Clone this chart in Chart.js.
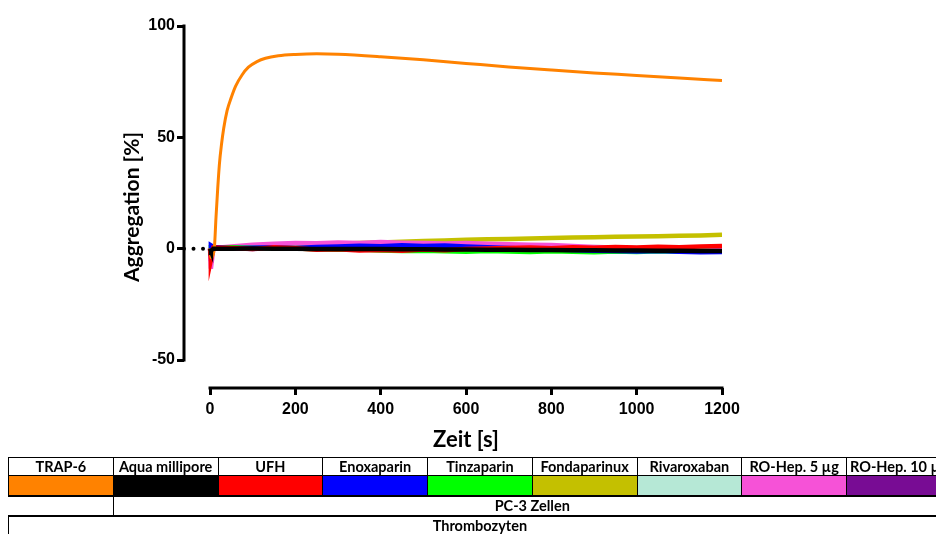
<!DOCTYPE html>
<html>
<head>
<meta charset="utf-8">
<script src="https://cdn.jsdelivr.net/npm/chart.js@4/dist/chart.umd.min.js"></script>
<style>
body { margin: 0; width: 936px; height: 534px; overflow: hidden; background: #fff; position: relative; }
#wrap { position: absolute; left: 0; top: 2px; width: 936px; height: 456px; }
table { position: absolute; left: 8px; top: 457px; border-collapse: collapse; table-layout: fixed; width: 943px;
        font-family: Lato, sans-serif; font-weight: bold; font-size: 14.5px; color: #000; }
td { border: 1.5px solid #000; text-align: center; padding: 0; white-space: nowrap; overflow: hidden; line-height: 16px; }
tr.h td { height: 17px; }
tr.c td { height: 19px; border-bottom-width: 2.5px; }
tr.p td { height: 18px; border-bottom-width: 2.5px; }
tr.p td.blank { border-left: none; }
tr.t td { height: 18px; }
</style>
</head>
<body>
<div id="wrap"><canvas id="chart" width="936" height="456"></canvas></div>
<table>
  <colgroup>
    <col style="width:104.75px"><col style="width:104.75px"><col style="width:104.75px">
    <col style="width:104.75px"><col style="width:104.75px"><col style="width:104.75px">
    <col style="width:104.75px"><col style="width:104.75px"><col style="width:104.75px">
  </colgroup>
  <tr class="h" id="headRow"></tr>
  <tr class="c" id="colorRow"></tr>
  <tr class="p"><td class="blank"></td><td colspan="8">PC-3 Zellen</td></tr>
  <tr class="t"><td colspan="9">Thrombozyten</td></tr>
</table>
<script>
// x ticks / y ticks
var xTicks = [0, 200, 400, 600, 800, 1000, 1200];
var yTicks = [-50, 0, 50, 100];

// treatments (legend table order)
var labels = ['TRAP-6', 'Aqua millipore', 'UFH', 'Enoxaparin', 'Tinzaparin', 'Fondaparinux', 'Rivaroxaban', 'RO-Hep. 5 µg', 'RO-Hep. 10 µg'];
var colors = ['#ff8200', '#000000', '#ff0000', '#0000ff', '#00ff00', '#c4c000', '#b6e8d6', '#f652d7', '#780c94'];

// TRAP-6 trace
var trapTimes = [0, 2, 10, 14, 18, 22, 27, 32, 40, 50, 60, 75, 90, 110, 130, 160, 200, 250, 300, 400, 500, 600, 700, 800, 900, 1000, 1100, 1200];
var trapValues = [0, -4, 0, 14, 27, 38, 47, 54, 62, 68, 73, 78, 81.5, 84, 85.5, 86.6, 87.2, 87.5, 87.3, 86.2, 84.8, 83.2, 81.6, 80.2, 78.9, 77.8, 76.6, 75.5];

// other traces, sampled at these times
var times = [0, 2, 8, 50, 100, 150, 200, 250, 300, 350, 400, 450, 500, 550, 600, 650, 700, 750, 800, 850, 900, 950, 1000, 1050, 1100, 1150, 1200];
var aqua = [0, -1, 0, 0, 0.1, 0, 0, -0.1, -0.1, -0.2, -0.2, -0.3, -0.3, -0.4, -0.4, -0.5, -0.5, -0.6, -0.6, -0.7, -0.7, -0.8, -0.8, -0.9, -0.9, -1.0, -1.0];
var ufh = [0, -5, 0.5, 0.3, -0.2, 0.6, 0.2, -0.5, -0.3, -0.8, -0.6, -0.9, -0.4, -0.7, -0.2, 0.1, 0.3, 0.5, 0.2, 0.6, 0.4, 0.7, 0.5, 0.9, 0.6, 1.0, 1.2];
var enox = [0, 1.5, 0.8, 0.2, 0.4, 0.6, 0.3, 0.8, 1.0, 1.3, 1.1, 1.5, 1.2, 1.4, 1.0, 0.6, 0.3, 0, -0.4, -0.6, -0.9, -1.0, -1.3, -1.1, -1.4, -1.6, -1.5];
var tinz = [0, 0.5, 0.3, 0.6, 0.4, 0.2, 0.1, -0.3, -0.5, -0.4, -0.8, -1.0, -0.9, -1.2, -1.4, -1.1, -1.3, -1.5, -1.2, -1.4, -1.6, -1.3, -1.5, -1.2, -1.4, -1.1, -1.3];
var fonda = [0, 0, 0.2, 0.4, 0.8, 1.0, 1.5, 1.8, 2.2, 2.5, 2.8, 3.1, 3.4, 3.7, 4.0, 4.2, 4.4, 4.6, 4.8, 5.0, 5.1, 5.3, 5.5, 5.6, 5.8, 5.9, 6.2];
var riva = [0, 0, 0.2, 0.3, 0.5, 0.2, 0.6, 0.8, 0.5, 0.9, 0.7, 1.0, 0.8, 0.6, 0.9, 0.7, 0.5, 0.8, 0.6, 0.4, 0.7, 0.5, 0.3, 0.6, 0.4, 0.2, 0.5];
var roHep5 = [0, -9, 0.3, 1.0, 1.8, 2.2, 2.6, 2.4, 2.8, 2.6, 3.0, 2.7, 2.5, 2.3, 2.6, 2.2, 2.0, 1.8, 1.6, 1.2, 0.8, 0.5, 0.2, -0.3, -0.8, -1.2, -0.6];
var roHep10 = [0, -2, 0, 0.2, -0.1, 0.3, 0.1, 0.4, 0.2, 0.5, 0.3, 0.1, 0.4, 0.2, 0, 0.3, 0.1, -0.1, 0.2, 0, -0.2, 0.1, -0.1, -0.3, 0, -0.2, -0.1];

// dotted baseline left of the first reading
var zeroTimes = [-61, 0];
var zeroValues = [0, 0];

// build the legend table
var headRow = document.getElementById('headRow');
var colorRow = document.getElementById('colorRow');
labels.forEach(function (l, i) {
    var h = document.createElement('td');
    h.textContent = l;
    headRow.appendChild(h);
    var c = document.createElement('td');
    c.style.background = colors[i];
    colorRow.appendChild(c);
});

function pts(xs, ys) {
    return xs.map(function (x, i) { return { x: x, y: ys[i] }; });
}

function trace(label, ys, color, width) {
    return { label: label, data: pts(times, ys), borderColor: color, borderWidth: width, tension: 0 };
}

var tickFont = { family: 'Liberation Sans', weight: 'bold', size: 16 };

var axisPlugin = {
    id: 'prismAxes',
    afterDraw: function (chart) {
        var ctx = chart.ctx;
        var x = chart.scales.x, y = chart.scales.y;
        ctx.save();
        ctx.strokeStyle = '#000';
        ctx.lineWidth = 3;
        ctx.beginPath();
        ctx.moveTo(chart.chartArea.left, y.getPixelForValue(-50) + 1.5);
        ctx.lineTo(chart.chartArea.left, y.getPixelForValue(100) - 1.5);
        ctx.moveTo(x.getPixelForValue(0) - 1.5, chart.chartArea.bottom);
        ctx.lineTo(x.getPixelForValue(1200) + 1.5, chart.chartArea.bottom);
        ctx.stroke();
        // x axis title, centred under the drawn axis
        ctx.fillStyle = '#000';
        ctx.font = 'bold 22px Lato';
        ctx.textAlign = 'center';
        ctx.textBaseline = 'middle';
        ctx.fillText('Zeit [s]', (x.getPixelForValue(0) + x.getPixelForValue(1200)) / 2, 438);
        ctx.restore();
    }
};

var ctx = document.getElementById('chart').getContext('2d');
var chart = new Chart(ctx, {
    type: 'line',
    data: {
        datasets: [
            trace(labels[1], aqua, colors[1], 4.5),
            { label: labels[0], data: pts(trapTimes, trapValues), borderColor: colors[0], borderWidth: 3, cubicInterpolationMode: 'monotone' },
            trace(labels[2], ufh, colors[2], 4.5),
            trace(labels[3], enox, colors[3], 4.5),
            trace(labels[4], tinz, colors[4], 4.5),
            trace(labels[7], roHep5, colors[7], 4.5),
            trace(labels[5], fonda, colors[5], 4.5),
            trace(labels[6], riva, colors[6], 4.5),
            trace(labels[8], roHep10, colors[8], 4.5),
            { label: 'baseline', data: pts(zeroTimes, zeroValues), borderColor: '#000', borderWidth: 4,
              borderDash: [0.01, 9.5], borderCapStyle: 'round' }
        ]
    },
    options: {
        responsive: false,
        animation: false,
        layout: { padding: { top: 24, right: 214, left: 0, bottom: 0 } },
        elements: { point: { radius: 0 } },
        plugins: { legend: { display: false }, tooltip: { enabled: false } },
        scales: {
            x: {
                type: 'linear',
                min: -61,
                max: 1200,
                afterBuildTicks: function (s) { s.ticks = xTicks.map(function (v) { return { value: v }; }); },
                afterFit: function (s) { s.height = 70; },
                ticks: { font: tickFont, color: '#000', padding: 5, maxRotation: 0, autoSkip: false,
                         callback: function (v) { return String(v); } },
                grid: { drawOnChartArea: false, drawTicks: true, tickLength: 7, tickColor: '#000', tickWidth: 3 },
                border: { display: false }
            },
            y: {
                min: -62.57,
                max: 100,
                afterBuildTicks: function (s) { s.ticks = yTicks.map(function (v) { return { value: v }; }); },
                afterFit: function (s) { s.width = 184; },
                ticks: { font: tickFont, color: '#000', padding: 2, callback: function (v) { return String(v); } },
                grid: { drawOnChartArea: false, drawTicks: true, tickLength: 7, tickColor: '#000', tickWidth: 3 },
                border: { display: false },
                title: { display: true, text: 'Aggregation [%]', color: '#000',
                         font: { family: 'Lato', weight: 'bold', size: 21 }, padding: { top: 120, bottom: 0 } }
            }
        }
    },
    plugins: [axisPlugin]
});
</script>
</body>
</html>
